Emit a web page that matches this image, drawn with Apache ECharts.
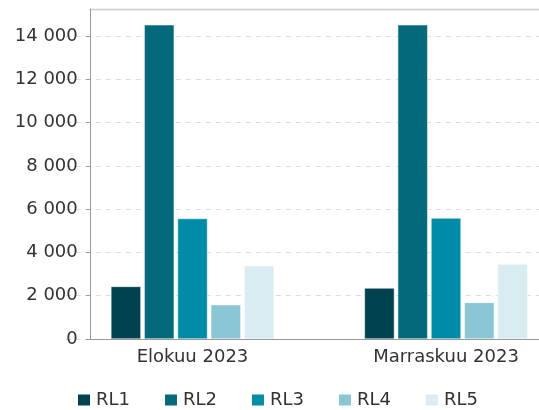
<!DOCTYPE html>
<html>
<head>
	<meta charset="utf-8">
	<title>RL</title>
	<script src="https://cdn.jsdelivr.net/npm/echarts@6/dist/echarts.min.js"></script>
	<style>
		html, body { margin: 0; padding: 0; background: #fff; }
	</style>
</head>
<body>
	<div id="main" style="width: 539px; height: 410px"></div>
	<script type="text/javascript">
		var categories = ['Elokuu 2023', 'Marraskuu 2023'];
		var seriesNames = ['RL1', 'RL2', 'RL3', 'RL4', 'RL5'];
		var rl1 = [2430, 2355];
		var rl2 = [14520, 14520];
		var rl3 = [5570, 5590];
		var rl4 = [1585, 1690];
		var rl5 = [3390, 3465];
		var colors = ['#00434f', '#04697a', '#008ba6', '#8ac6d3', '#d9ecf1'];

		var myChart = echarts.init(document.getElementById('main'));

		function fmt(v) {
			return String(v).replace(/\B(?=(\d{3})+(?!\d))/g, ' ');
		}

		var values = [rl1, rl2, rl3, rl4, rl5];
		var series = seriesNames.map(function (name, i) {
			return {
				name: name,
				type: 'bar',
				data: values[i],
				barWidth: 30,
				barGap: '11%',
				itemStyle: { color: colors[i], borderColor: '#ffffff', borderWidth: 0.5 }
			};
		});

		var option = {
			animation: false,
			textStyle: { fontFamily: 'DejaVu Sans' },
			color: colors,
			// plot band is wider than the window; it runs past the right edge
			grid: { left: 65.75, width: 507, top: 9, height: 330, outerBoundsMode: 'none' },
			legend: {
				data: seriesNames,
				left: 71,
				top: 386,
				itemWidth: 14,
				itemHeight: 13,
				itemGap: 33,
				icon: 'rect',
				textStyle: { fontSize: 18, color: '#333', fontFamily: 'DejaVu Sans' }
			},
			xAxis: {
				type: 'category',
				data: categories,
				axisLine: { show: false },
				axisTick: { show: false },
				axisLabel: { fontSize: 18, color: '#333', margin: 9 }
			},
			yAxis: {
				type: 'value',
				min: 0,
				max: 15250,
				interval: 2000,
				offset: -24,
				axisLine: { show: true, lineStyle: { color: '#999' } },
				axisTick: { show: true, length: 4, lineStyle: { color: '#999' } },
				axisLabel: {
					fontSize: 18, color: '#333', margin: 12, showMaxLabel: false,
					formatter: fmt
				},
				splitLine: {
					showMaxLine: false,
					lineStyle: { color: '#dcdcdc', type: [5, 5] }
				}
			},
			graphic: [{
				// top frame line
				type: 'line',
				shape: { x1: 89.5, y1: 9.5, x2: 539, y2: 9.5 },
				style: { stroke: '#cccccc', lineWidth: 1.5 }
			}, {
				// baseline, starts at the y axis instead of the grid edge
				type: 'line',
				z: 10,
				shape: { x1: 85.5, y1: 339.5, x2: 539, y2: 339.5 },
				style: { stroke: '#999999', lineWidth: 1 }
			}],
			series: series
		};
		myChart.setOption(option);
	</script>
</body>
</html>
